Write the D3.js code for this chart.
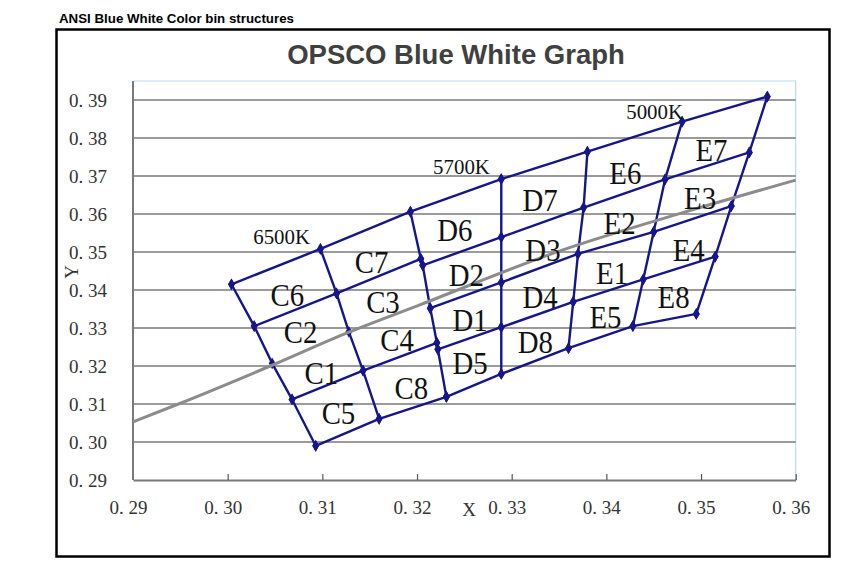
<!DOCTYPE html>
<html>
<head>
<meta charset="utf-8">
<script src="https://cdn.jsdelivr.net/npm/d3@7"></script>
<style>
  body { margin: 0; background: #fff; }
  svg { display: block; }
</style>
</head>
<body>
<svg id="chart" width="856" height="568"></svg>
<script>
"use strict";

// Chart texts
var headerText = "ANSI Blue White Color bin structures";
var titleText = "OPSCO Blue White Graph";

// Axis ticks
var xTicks = [0.29, 0.30, 0.31, 0.32, 0.33, 0.34, 0.35, 0.36];
var yTicks = [0.29, 0.30, 0.31, 0.32, 0.33, 0.34, 0.35, 0.36, 0.37, 0.38, 0.39];

// Black body locus (gray curve), [x, y]
var locus = [[0.2900, 0.3053], [0.2948, 0.3100], [0.3045, 0.3200], [0.3128, 0.3289],
             [0.3203, 0.3361], [0.3351, 0.3503], [0.3480, 0.3603], [0.3600, 0.3689]];

// Bin boundary rows (roughly along the locus)
var topEdge  = [[0.3004, 0.3415], [0.3098, 0.3508], [0.3193, 0.3606], [0.3289, 0.3692],
                [0.3380, 0.3764], [0.3480, 0.3843], [0.3570, 0.3909]];
var cRowA    = [[0.3028, 0.3305], [0.3115, 0.3391], [0.3204, 0.3482]];
var cRowB    = [[0.3068, 0.3112], [0.3143, 0.3188], [0.3221, 0.3261]];
var cBottom  = [[0.3093, 0.2990], [0.3160, 0.3061], [0.3231, 0.3119]];
var deRowA   = [[0.3206, 0.3465], [0.3289, 0.3539], [0.3376, 0.3617], [0.3462, 0.3691], [0.3551, 0.3762]];
var deRowMid = [[0.3214, 0.3352], [0.3289, 0.3420], [0.3370, 0.3495], [0.3450, 0.3553], [0.3532, 0.3621]];
var deRowB   = [[0.3222, 0.3244], [0.3289, 0.3302], [0.3365, 0.3369], [0.3439, 0.3428], [0.3515, 0.3488]];
var deBottom = [[0.3231, 0.3119], [0.3289, 0.3179], [0.3360, 0.3247], [0.3428, 0.3305], [0.3495, 0.3337]];

// Bin boundary columns (iso-CCT lines)
var colL0 = [[0.3004, 0.3415], [0.3028, 0.3305], [0.3047, 0.3207], [0.3068, 0.3112], [0.3093, 0.2990]];
var colL1 = [[0.3098, 0.3508], [0.3115, 0.3391], [0.3128, 0.3290], [0.3143, 0.3188], [0.3160, 0.3061]];
var colM0 = [[0.3193, 0.3606], [0.3204, 0.3482], [0.3206, 0.3465], [0.3214, 0.3352],
             [0.3221, 0.3261], [0.3222, 0.3244], [0.3231, 0.3119]];
var colM1 = [[0.3289, 0.3692], [0.3289, 0.3539], [0.3289, 0.3420], [0.3289, 0.3302], [0.3289, 0.3179]];
var colM2 = [[0.3380, 0.3764], [0.3376, 0.3617], [0.3370, 0.3495], [0.3365, 0.3369], [0.3360, 0.3247]];
var colN1 = [[0.3480, 0.3843], [0.3462, 0.3691], [0.3450, 0.3553], [0.3439, 0.3428], [0.3428, 0.3305]];
var colN2 = [[0.3570, 0.3909], [0.3551, 0.3762], [0.3532, 0.3621], [0.3515, 0.3488], [0.3495, 0.3337]];

// Bin names and their label centres
var binNames = ["C6", "C7", "C3", "C2", "C4", "C1", "C8", "C5",
                "D6", "D2", "D1", "D5", "D7", "D3", "D4", "D8",
                "E6", "E2", "E1", "E5", "E7", "E3", "E4", "E8"];
var binX = [0.3063, 0.3152, 0.3164, 0.3077, 0.3179, 0.3099, 0.3194, 0.3117,
            0.3240, 0.3252, 0.3256, 0.3256, 0.3330, 0.3333, 0.3330, 0.3325,
            0.3420, 0.3414, 0.3406, 0.3399, 0.3511, 0.3499, 0.3487, 0.3471];
var binY = [0.3387, 0.3474, 0.3369, 0.3290, 0.3268, 0.3181, 0.3141, 0.3076,
            0.3558, 0.3439, 0.3321, 0.3207, 0.3637, 0.3505, 0.3382, 0.3264,
            0.3707, 0.3576, 0.3444, 0.3330, 0.3768, 0.3641, 0.3505, 0.3382];

// CCT labels
var cctNames = ["6500K", "5700K", "5000K"];
var cctX = [0.3057, 0.3247, 0.3451];
var cctY = [0.3540, 0.3724, 0.3869];


var svg = d3.select("#chart");
var navy = "#16168c";
var grid = "#7a7a7a";

var x = d3.scaleLinear().domain([0.29, 0.36]).range([133, 795.7]);
var y = d3.scaleLinear().domain([0.29, 0.395]).range([480, 81]);

function fmt(d) {
    // "0. 39" style labels
    return "0. " + d3.format(".2f")(d).split(".")[1];
}

// header above the frame
svg.append("text")
    .attr("x", 59)
    .attr("y", 22.5)
    .attr("font-family", "Liberation Sans, Arial, sans-serif")
    .attr("font-weight", "bold")
    .attr("font-size", 13.3)
    .attr("fill", "#000")
    .text(headerText);

// outer frame
svg.append("rect")
    .attr("x", 56.5)
    .attr("y", 29.5)
    .attr("width", 773)
    .attr("height", 527)
    .attr("fill", "#fff")
    .attr("stroke", "#000")
    .attr("stroke-width", 2.5);

// title
svg.append("text")
    .attr("x", 456)
    .attr("y", 64)
    .attr("text-anchor", "middle")
    .attr("font-family", "Liberation Sans, Arial, sans-serif")
    .attr("font-weight", "bold")
    .attr("font-size", 27.5)
    .attr("fill", "#404040")
    .text(titleText);

// plot area border (light blue top / right)
svg.append("path")
    .attr("d", "M" + x(0.29) + "," + y(0.395) + "H" + x(0.36) + "V" + y(0.29))
    .attr("fill", "none")
    .attr("stroke", "#b9d9f2")
    .attr("stroke-width", 1.2);

// horizontal grid lines
svg.append("g")
    .selectAll("line")
    .data(yTicks.slice(1))
    .enter()
    .append("line")
    .attr("x1", x(0.29))
    .attr("x2", x(0.36))
    .attr("y1", function (d) { return y(d); })
    .attr("y2", function (d) { return y(d); })
    .attr("stroke", grid)
    .attr("stroke-width", 1.3);

// y axis
var yAxis = svg.append("g")
    .attr("transform", "translate(" + x(0.29) + ",0)")
    .call(d3.axisLeft(y).tickValues(yTicks).tickSize(0).tickPadding(26).tickFormat(fmt));
yAxis.select(".domain").attr("stroke", grid).attr("stroke-width", 2).attr("d", "M0," + y(0.29) + "V" + y(0.395));
yAxis.selectAll("text")
    .attr("font-family", "Liberation Serif, Times New Roman, serif")
    .attr("font-size", 19)
    .attr("fill", "#333")
    .attr("dy", "0.33em");

// x axis, ticks pointing up into the plot
var xAxis = svg.append("g")
    .attr("transform", "translate(0," + y(0.29) + ")")
    .call(d3.axisBottom(x).tickValues(xTicks).tickSizeInner(-6).tickSizeOuter(0).tickPadding(21).tickFormat(fmt));
xAxis.select(".domain").attr("stroke", grid).attr("stroke-width", 2);
xAxis.selectAll(".tick line").attr("stroke", "#555").attr("stroke-width", 1.2)
    .filter(function (d) { return d === 0.29; }).remove();
xAxis.selectAll("text")
    .attr("font-family", "Liberation Serif, Times New Roman, serif")
    .attr("font-size", 19)
    .attr("fill", "#333")
    .attr("dx", -5);

// axis titles
svg.append("text")
    .attr("x", 469)
    .attr("y", 516)
    .attr("text-anchor", "middle")
    .attr("font-family", "Liberation Serif, Times New Roman, serif")
    .attr("font-size", 19)
    .attr("fill", "#333")
    .text("X");

svg.append("text")
    .attr("transform", "translate(78,272) rotate(-90)")
    .attr("text-anchor", "middle")
    .attr("font-family", "Liberation Serif, Times New Roman, serif")
    .attr("font-size", 19)
    .attr("fill", "#333")
    .text("Y");

var line = d3.line()
    .x(function (d) { return x(d[0]); })
    .y(function (d) { return y(d[1]); });

// bin boundaries
var boundaries = [topEdge, cRowA, cRowB, cBottom, deRowA, deRowMid, deRowB, deBottom,
                  colL0, colL1, colM0, colM1, colM2, colN1, colN2];

svg.append("g")
    .selectAll("path")
    .data(boundaries)
    .enter()
    .append("path")
    .attr("d", line)
    .attr("fill", "none")
    .attr("stroke", navy)
    .attr("stroke-width", 2.4)
    .attr("stroke-linejoin", "round");

// diamond markers at every vertex
var vertices = [];
boundaries.forEach(function (b) { b.forEach(function (p) { vertices.push(p); }); });

svg.append("g")
    .selectAll("path")
    .data(vertices)
    .enter()
    .append("path")
    .attr("d", d3.symbol().type(d3.symbolDiamond).size(40))
    .attr("transform", function (d) { return "translate(" + x(d[0]) + "," + y(d[1]) + ")"; })
    .attr("fill", navy);

// black body locus
svg.append("path")
    .datum(locus)
    .attr("d", line.curve(d3.curveMonotoneX))
    .attr("fill", "none")
    .attr("stroke", "#8c8c8c")
    .attr("stroke-width", 3);

// bin names (tall, slightly narrow serif like the original)
svg.append("g")
    .selectAll("text")
    .data(binNames)
    .enter()
    .append("text")
    .attr("transform", function (d, i) {
        return "translate(" + x(binX[i]) + "," + (y(binY[i]) + 11) + ") scale(0.9,1)";
    })
    .attr("text-anchor", "middle")
    .attr("font-family", "Liberation Serif, Times New Roman, serif")
    .attr("font-size", 32)
    .attr("fill", "#111")
    .text(function (d) { return d; });

// CCT names
svg.append("g")
    .selectAll("text")
    .data(cctNames)
    .enter()
    .append("text")
    .attr("transform", function (d, i) {
        return "translate(" + x(cctX[i]) + "," + (y(cctY[i]) + 7.5) + ") scale(0.95,1)";
    })
    .attr("text-anchor", "middle")
    .attr("font-family", "Liberation Serif, Times New Roman, serif")
    .attr("font-size", 22)
    .attr("fill", "#111")
    .text(function (d) { return d; });
</script>
</body>
</html>
